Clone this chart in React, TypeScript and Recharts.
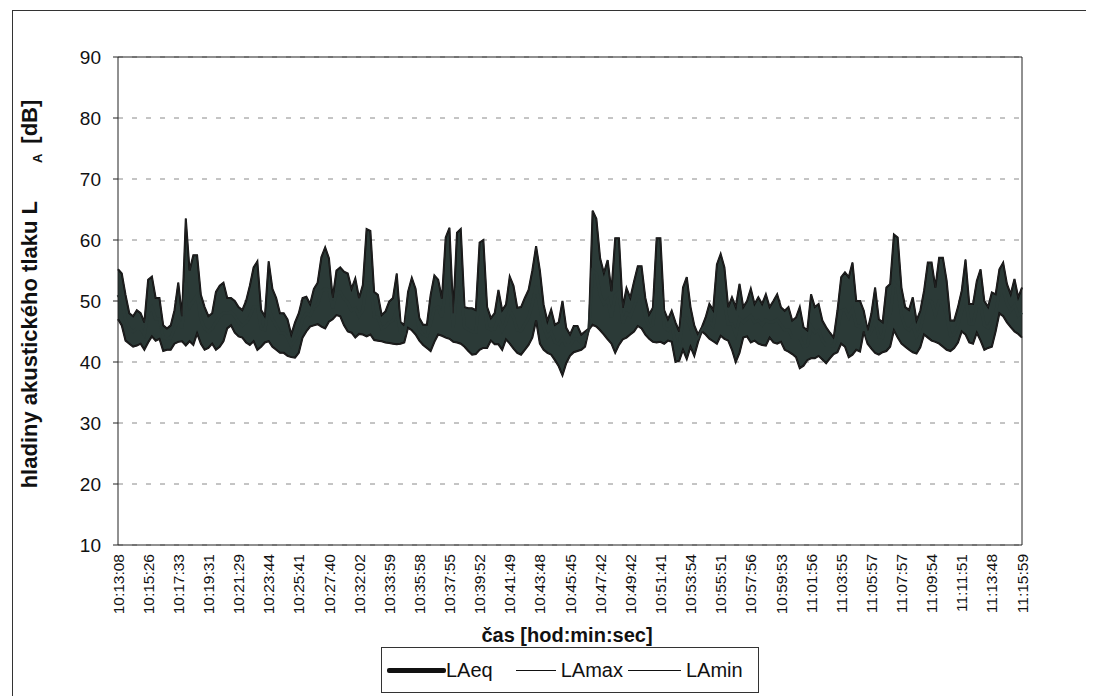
import { ComposedChart, Area, Line, XAxis, YAxis, CartesianGrid, ReferenceLine } from "recharts";

// time labels shown under the x axis (one every STEP samples)
const TIME_LABELS = [
  "10:13:08", "10:15:26", "10:17:33", "10:19:31", "10:21:29", "10:23:44", "10:25:41", "10:27:40",
  "10:32:02", "10:33:59", "10:35:58", "10:37:55", "10:39:52", "10:41:49", "10:43:48", "10:45:45",
  "10:47:42", "10:49:42", "10:51:41", "10:53:54", "10:55:51", "10:57:56", "10:59:53", "11:01:56",
  "11:03:55", "11:05:57", "11:07:57", "11:09:54", "11:11:51", "11:13:48", "11:15:59",
];
const STEP = 8;

const Y_TICKS = [10, 20, 30, 40, 50, 60, 70, 80, 90];

// LAmax [dB]
const laMax = [
  55.2, 54.5, 51, 48, 47.5, 48.5, 48, 46.5, 53.5,
  54, 50.5, 50.5, 46, 45.5, 46, 48.5, 53,
  47.5, 63.5, 55, 57.5, 57.5, 51, 49, 47.5,
  48, 51.5, 52.5, 53, 50.5, 50.5, 50, 49,
  48.5, 50, 52.5, 55.5, 56.5, 48.5, 47.5, 56.5,
  52, 50.5, 48, 48, 47, 44.5, 46.5, 48,
  50.5, 50.7, 49.5, 52, 53, 57.2, 58.8, 57,
  50.5, 55, 55.5, 54.8, 54.5, 52, 53.7, 50.5,
  52.6, 61.8, 61.5, 51.5, 51, 47.7, 48.3, 49.9,
  50.5, 54.5, 46.6, 46, 51.5, 53.8, 52, 47.2,
  46.1, 46.1, 51, 54.2, 53.5, 50.4, 60.4, 62,
  48, 61.2, 61.8, 49, 48.8, 48.8, 48.5, 59.6,
  60, 49, 47.2, 48, 51.8, 48.5, 49.4, 54,
  52.5, 48.9, 49, 50.5, 51.8, 55, 59, 55,
  49.4, 46.7, 48.6, 46.1, 46.5, 50, 45.6, 44.5,
  45.9, 45.9, 44.5, 45, 45.5, 64.8, 63.5, 57,
  54.6, 56.7, 51.6, 60.3, 60.3, 48.9, 52.1, 50.5,
  53.2, 55.7, 55.7, 50.5, 47.8, 48.9, 60.3, 60.3,
  48.5, 47, 48.4, 46.5, 45, 52.2, 53.9, 49,
  46, 44.5, 45.7, 47.3, 49.5, 48.5, 56, 57.7,
  55.5, 49, 50.6, 49, 52.8, 49, 50, 52,
  49.5, 50.6, 49.5, 51.1, 49, 50, 51.1, 49,
  48.4, 49, 46.8, 47.3, 49, 45.7, 45.2, 51.1,
  49, 49.5, 46.8, 45.7, 44.8, 44, 48.4, 53.9,
  54.7, 53.9, 56.3, 50, 50, 48.4, 45.2, 47.9,
  52.2, 47, 46.5, 52.2, 52.8, 60.9, 60.4, 52.2,
  49, 48.5, 50.6, 46.8, 48.4, 51.7, 56.3, 56.3,
  52.2, 57.1, 57.1, 53.3, 46.8, 46.8, 49, 51.7,
  56.8, 49.5, 49.5, 53.3, 55.2, 50, 49, 51.4,
  51.1, 55.2, 56.3, 52.8, 51.1, 53.6, 50.6, 52.2,
];

// LAmin [dB]
const laMin = [
  47, 46, 43.5, 43, 42.5, 42.7, 43, 42, 43.2,
  44.2, 43.5, 43.8, 41.8, 42, 42, 43, 43.3,
  43.4, 42.7, 43.4, 42.8, 44.7, 43, 42, 42.3,
  43, 42, 42.5, 43.4, 45.5, 46, 44.8, 44.2,
  44, 43.2, 42.8, 43.4, 42, 42.5, 43.2, 43.4,
  42.5, 42, 41.5, 41.5, 41, 40.8, 40.7, 41.5,
  44, 45, 45.8, 46, 46.2, 45.8, 45.5, 46.6,
  47, 47.7, 47.5, 46, 45, 44.8, 44, 44.6,
  44.5, 44.2, 44.5, 43.6, 43.5, 43.4, 43.2, 43.1,
  43, 42.9, 43, 43.2, 45.6, 45.2, 44.5, 43.5,
  42.8, 42.3, 41.8, 43.3, 44.5, 44.3, 44, 43.8,
  43.3, 43.2, 43, 42.5, 41.8, 41.2, 41.3, 42,
  42.3, 42.3, 43.5, 42.9, 42.9, 42, 43.7, 43,
  42.2, 41.5, 41.2, 42, 42.8, 44, 46.8, 43,
  42, 41.5, 41.2, 40.3, 39.3, 37.8, 39.8, 41,
  41.6, 41.8, 42, 42.5, 45.3, 46.1, 45.8, 45.2,
  44.5, 43.7, 43, 41.5, 42.8, 43.7, 44, 44.5,
  45, 45.9, 45.5, 44.5, 43.8, 43.3, 43.2, 43.3,
  43, 43.5, 43.3, 40, 40.2, 42, 40.5, 42.5,
  41, 43.3, 45, 44.5, 43.8, 43.4, 43, 44.3,
  43.8, 43.5, 42, 40, 41.5, 44, 44.2, 43.2,
  43.5, 43, 42.8, 42.7, 44, 43.2, 43, 43.3,
  42, 41.7, 41.3, 40.8, 39, 39.4, 40.3, 40.6,
  40.6, 41, 40.4, 39.8, 40.6, 41.3, 41.6, 43,
  42.5, 40.8, 41.2, 42, 41.7, 45, 43, 42.2,
  41.5, 41.2, 41.6, 41.8, 42.5, 45.2, 44, 43,
  42.5, 42, 41.6, 41.4, 42.4, 44.5, 44, 43.5,
  43.3, 43, 42.5, 42, 41.8, 42.3, 43.2, 45,
  44.5, 43.2, 43, 44.8, 43.5, 42, 42.3, 42.5,
  45, 48, 47.5, 46.5, 45.7, 45, 44.6, 44,
];

// LAeq [dB]
const laEq = [
  51, 50, 47, 45.5, 45, 45.5, 45.5, 44.5, 48,
  49, 47, 47, 44, 43.8, 44, 45.5, 47,
  45.5, 53, 49, 50, 51, 47, 45.5, 45,
  45.5, 46.5, 47.5, 48, 48, 48.2, 47.5, 46.5,
  46, 46.5, 47.5, 49, 49, 45.5, 45.3, 49,
  47, 46, 44.8, 44.8, 44, 42.7, 43.6, 44.7,
  47, 48, 47.6, 49, 49.5, 51.5, 52, 51.8,
  48.8, 51.3, 51.5, 50.4, 49.7, 48.4, 48.8, 47.5,
  48.5, 53, 53, 47.5, 47.3, 45.5, 45.8, 46.5,
  46.8, 48.5, 44.8, 44.6, 48.5, 49.5, 48.2, 45.3,
  44.5, 44.2, 46.4, 48.7, 49, 47.3, 52, 52.8,
  45.6, 52, 52.2, 45.7, 45.3, 45, 44.9, 50.8,
  51, 45.6, 45.3, 45.4, 47.3, 45.2, 46.5, 48.5,
  47.3, 45.2, 45.1, 46.2, 47.3, 49.5, 52.5, 49,
  45.7, 44.1, 44.9, 43.2, 42.9, 43.9, 42.7, 42.7,
  43.7, 43.8, 43.2, 43.7, 45.4, 55, 54.5, 51,
  49.5, 50.2, 47.3, 50.9, 51.5, 46.3, 48, 47.5,
  49.1, 50.8, 50.6, 47.5, 45.8, 46.1, 51.7, 51.8,
  45.7, 45.2, 45.8, 43.2, 42.6, 47.1, 47.2, 45.7,
  43.5, 43.9, 45.3, 45.9, 46.6, 45.9, 49.5, 51,
  49.6, 46.2, 46.3, 44.5, 47.1, 46.5, 47.1, 47.6,
  46.5, 46.8, 46.1, 46.9, 46.5, 46.6, 47, 46.1,
  45.2, 45.3, 44, 44, 44, 42.5, 42.7, 45.8,
  44.8, 45.2, 43.6, 42.7, 42.7, 42.6, 45, 48.4,
  48.6, 47.3, 48.7, 46, 45.8, 46.7, 44.1, 45,
  46.8, 44.1, 44, 47, 47.6, 53, 52.2, 47.6,
  45.7, 45.2, 46.1, 44.1, 45.4, 48.1, 50.1, 49.9,
  47.7, 50, 49.8, 47.6, 44.3, 44.5, 46.1, 48.3,
  50.6, 46.3, 46.2, 49, 49.3, 46, 45.6, 46.9,
  48, 51.6, 51.9, 49.6, 48.4, 49.3, 47.6, 48.1,
];

const SERIES = ["LAeq", "LAmax", "LAmin"];

const FONT = "'Liberation Sans', Arial, sans-serif";
const BAND = "#2b3a37";

const rows = laEq.map((v, i) => ({
  i,
  band: [laMin[i], laMax[i]],
  LAeq: v,
  LAmax: laMax[i],
  LAmin: laMin[i],
}));

const xTicks = TIME_LABELS.map((_, k) => k * STEP);
const lastIdx = (TIME_LABELS.length - 1) * STEP;

function TimeTick({ x, y, payload }: any) {
  const label = TIME_LABELS[Math.round(payload.value / STEP)];
  return (
    <g transform={`translate(${x},${y})`}>
      <text
        transform="rotate(-90)"
        x={-7}
        y={0}
        dy="0.36em"
        textAnchor="end"
        fontSize={15.5}
        fontFamily={FONT}
        fill="#111"
      >
        {label}
      </text>
    </g>
  );
}

function YTitle() {
  return (
    <text
      transform="rotate(-90, 37, 294)"
      x={37}
      y={294}
      textAnchor="middle"
      fontSize={22}
      fontWeight="bold"
      fontFamily={FONT}
      fill="#111"
    >
      hladiny akustického tlaku L
      <tspan dx={38} dy={5} fontSize={13}>A</tspan>
      <tspan dx={10} dy={-5}>[dB]</tspan>
    </text>
  );
}

function XTitle() {
  return (
    <text x={567} y={642} textAnchor="middle" fontSize={20} fontWeight="bold" fontFamily={FONT} fill="#111">
      čas [hod:min:sec]
    </text>
  );
}

function LegendBox() {
  const lineW = [59, 40, 53];
  const gapBefore = [5, 23, 5];
  return (
    <div
      style={{
        position: "absolute",
        left: 381,
        top: 647,
        width: 376,
        height: 44,
        border: "1px solid #333",
        display: "flex",
        alignItems: "center",
        fontFamily: FONT,
        fontSize: 20,
        color: "#111",
        boxSizing: "content-box",
      }}
    >
      {SERIES.map((name, k) => (
        <div key={name} style={{ display: "flex", alignItems: "center", marginLeft: gapBefore[k] }}>
          <div
            style={{
              width: lineW[k],
              height: k === 0 ? 5 : 1,
              background: "#111",
              borderRadius: k === 0 ? 2 : 0,
              marginRight: k === 0 ? 0 : 5,
            }}
          />
          <span>{name}</span>
        </div>
      ))}
    </div>
  );
}

export default function App() {
  return (
    <div style={{ position: "absolute", left: 0, top: 0, width: 1095, height: 696, background: "#fff" }}>
      {/* outer chart frame */}
      <div style={{ position: "absolute", left: 12, top: 10, width: 1073, height: 700, borderTop: "1px solid #333", borderLeft: "1px solid #333" }} />
      <ComposedChart
        width={1095}
        height={696}
        data={rows}
        margin={{ top: 57, right: 73, left: 18, bottom: 71 }}
        style={{ position: "absolute", left: 0, top: 0 }}
      >
        <CartesianGrid vertical={false} stroke="#8a8a8a" strokeDasharray="5 9" />
        <XAxis
          dataKey="i"
          type="number"
          domain={[0, lastIdx]}
          ticks={xTicks}
          interval={0}
          height={80}
          tickLine={false}
          tickSize={0}
          axisLine={{ stroke: "#222" }}
          tick={<TimeTick />}
          label={<XTitle />}
        />
        <YAxis
          domain={[10, 90]}
          ticks={Y_TICKS}
          interval={0}
          width={100}
          tickSize={5}
          tickMargin={12}
          tickLine={{ stroke: "#222" }}
          axisLine={{ stroke: "#222" }}
          tick={{ fontSize: 19, fontFamily: FONT, fill: "#111" }}
          label={<YTitle />}
        />
        <ReferenceLine y={90} stroke="#222" />
        <ReferenceLine x={lastIdx} stroke="#222" />
        <Area
          dataKey="band"
          type="linear"
          fill={BAND}
          fillOpacity={1}
          stroke="#111"
          strokeWidth={2}
          isAnimationActive={false}
          activeDot={false}
        />
        <Line dataKey="LAeq" type="linear" stroke={BAND} strokeWidth={3} dot={false} isAnimationActive={false} />
        <Line dataKey="LAmax" type="linear" stroke="#222" strokeWidth={1} dot={false} isAnimationActive={false} />
        <Line dataKey="LAmin" type="linear" stroke="#222" strokeWidth={1} dot={false} isAnimationActive={false} />
      </ComposedChart>
      <LegendBox />
    </div>
  );
}
